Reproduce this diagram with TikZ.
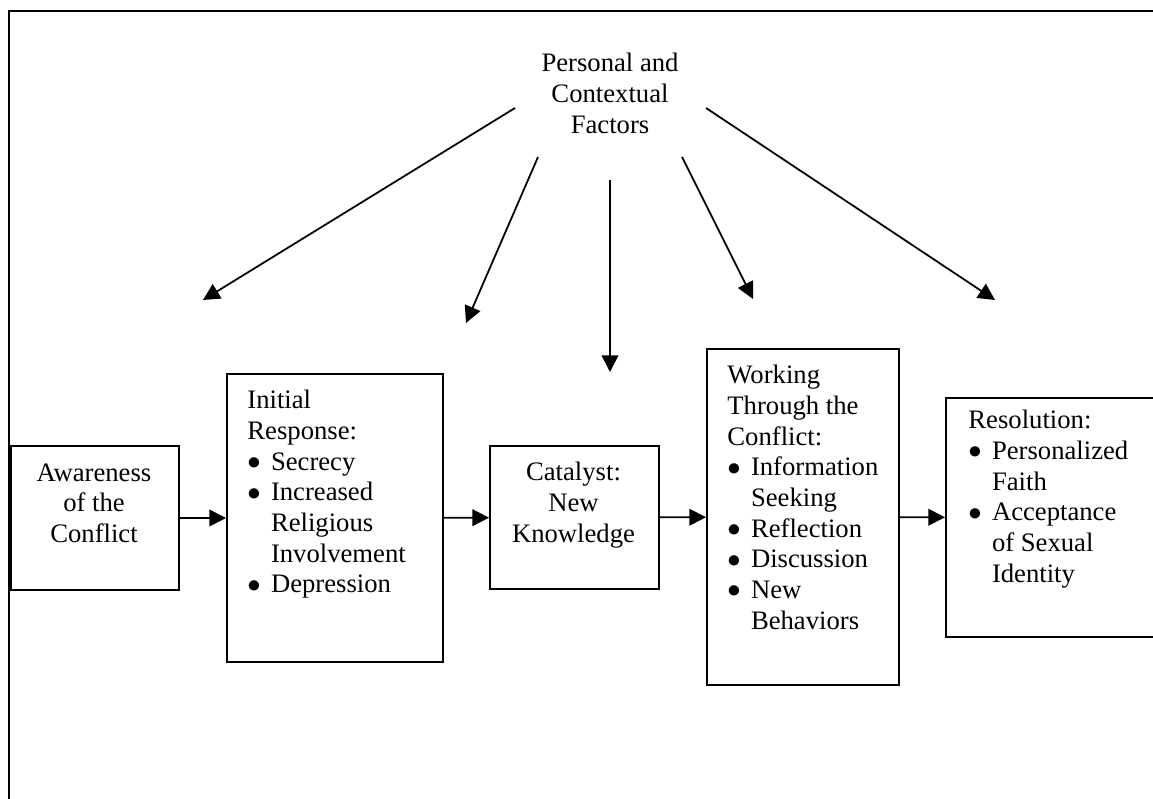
\documentclass[tikz,border=0pt]{standalone}
\usepackage{fontspec}
\setmainfont{Liberation Serif}
\usetikzlibrary{arrows.meta}

\newcommand{\stepbul}{\makebox[10.6pt][l]{\raisebox{0.4pt}{$\bullet$}}}
\newcommand{\stepind}{\hspace*{10.6pt}}

\begin{document}
\begin{tikzpicture}[x=0.45pt,y=-0.45pt,
    stage/.style={draw=black, line width=0.9pt, anchor=north west},
    words/.style={font=\fontsize{12}{13.8}\selectfont, align=left, anchor=north west},
    flow/.style={black, line width=0.8pt, -{Triangle[length=7.5pt,width=7.5pt]}}]
    \tikzstyle{every node}+=[inner sep=0pt]
    \path[use as bounding box] (0,0) rectangle (1153,799);
    \clip (0,0) rectangle (1153,799);
    % outer frame
    \draw [black, line width=1pt] (9,11) rectangle (1175,820);
    % stages
    \node [stage, minimum width=75.6pt, minimum height=64.8pt] (aware) at (10,445) {};
    \node [words, align=center, anchor=north] (awareT) at (94,463) {Awareness\\of the\\Conflict};
    \node [stage, minimum width=97.2pt, minimum height=129.6pt] (init) at (226,373) {};
    \node [words] (initT) at (247,390) {Initial\\Response:\\\stepbul Secrecy\\\stepbul Increased\\\stepind Religious\\\stepind Involvement\\\stepbul Depression};
    \node [stage, minimum width=76.05pt, minimum height=64.35pt] (cat) at (489,445) {};
    \node [words, align=center, anchor=north] (catT) at (573.5,462) {Catalyst:\\New\\Knowledge};
    \node [stage, minimum width=86.4pt, minimum height=151.2pt] (work) at (706,348) {};
    \node [words] (workT) at (727,365) {Working\\Through the\\Conflict:\\\stepbul Information\\\stepind Seeking\\\stepbul Reflection\\\stepbul Discussion\\\stepbul New\\\stepind Behaviors};
    \node [stage, minimum width=101.25pt, minimum height=107.55pt] (res) at (945,397) {};
    \node [words] (resT) at (968,410) {Resolution:\\\stepbul Personalized\\\stepind Faith\\\stepbul Acceptance\\\stepind of Sexual\\\stepind Identity};
    % factors
    \node [words, align=center, anchor=north] (pcf) at (610,53) {Personal and\\Contextual\\Factors};
    \coordinate (s1) at (515,108);
    \coordinate (e1) at (203,300);
    \coordinate (s2) at (538,157);
    \coordinate (e2) at (466,323);
    \coordinate (s3) at (610,180);
    \coordinate (e3) at (610,372);
    \coordinate (s4) at (682,157);
    \coordinate (e4) at (753,299);
    \coordinate (s5) at (706,108);
    \coordinate (e5) at (995,300);
    \draw [flow] (s1) -- (e1);
    \draw [flow] (s2) -- (e2);
    \draw [flow] (s3) -- (e3);
    \draw [flow] (s4) -- (e4);
    \draw [flow] (s5) -- (e5);
    % stage arrows
    \draw [flow] (aware) -- (init);
    \draw [flow] (init) -- (cat);
    \draw [flow] (cat) -- (work);
    \draw [flow] (work) -- (res);
\end{tikzpicture}
\end{document}
